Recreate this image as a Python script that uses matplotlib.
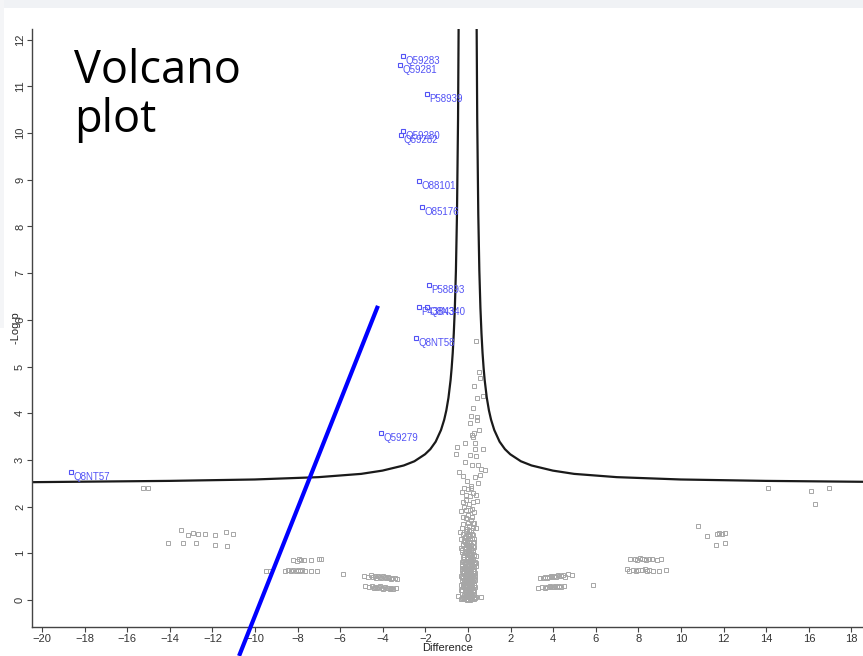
import matplotlib
matplotlib.use("Agg")
import matplotlib.pyplot as plt
from matplotlib.patches import Rectangle
import numpy as np

# significant proteins (blue, labelled)
sig_names = ["Q59283", "Q59281", "P58939", "Q59280", "Q59282", "O88101", "O85176",
             "P58893", "P43843", "Q8N340", "Q8NT58", "Q59279", "Q8NT57"]
sig_x = [-3.05, -3.19, -1.92, -3.05, -3.15, -2.30, -2.16, -1.83, -2.30, -1.92, -2.44, -4.08, -18.64]
sig_y = [11.65, 11.46, 10.83, 10.04, 9.96, 8.97, 8.42, 6.75, 6.27, 6.27, 5.61, 3.58, 2.74]

# non-significant proteins, central column
center_x = [0.38, 0.52, 0.56, 0.28, 0.44, 0.69, 0.25, 0.14, 0.41, 0.44, 0.09, 0.50, 0.20, 0.25, 0.28,
            -0.14, -0.50, -0.56, 0.33, 0.33, 0.69, 0.09, 0.38, -0.14, 0.20, 0.48, 0.61, 0.80, -0.41,
            -0.22, 0.33, 0.56, 0.48,
            -0.05, 0.15, 0.02, -0.30, 0.25, 0.10, -0.12, 0.40, 0.05, -0.20, 0.18, -0.35, 0.30, 0.00,
            -0.10, 0.12, 0.22, -0.25, 0.05, -0.05, 0.35, 0.15, -0.40, 0.00, 0.25,
            -0.15, 0.08, 0.18, -0.05, 0.30, -0.25, 0.00, 0.12, -0.12, 0.22, 0.05, -0.30, -0.05, 0.15,
            0.35, 0.00, -0.18, 0.25, 0.08, -0.08, 0.18, -0.28, 0.02, 0.30, -0.15, 0.12, -0.02, 0.22,
            -0.22, 0.06, -0.10, 0.16, 0.32, -0.30, 0.00, 0.10, -0.18, 0.24, -0.06, 0.14, -0.24, 0.04,
            0.28, -0.12, 0.18, -0.02, 0.08, -0.28, 0.22, -0.08, 0.12, 0.00, -0.18, 0.26, 0.06, -0.10,
            0.16, -0.30, 0.32, -0.45, 0.60, 0.00, -0.20, 0.20, -0.05, 0.10,
            0.00, -0.20, 0.25, -0.10, 0.08, -0.22, 0.15, -0.05, 0.28, -0.15, 0.05, -0.25, 0.20, 0.10,
            -0.12, 0.02, 0.14, -0.04, 0.04, -0.02, 0.10, -0.08, 0.20, -0.30, 0.38, -0.35, 0.00, 0.09,
            -0.14]
center_y = [5.55, 4.89, 4.75, 4.58, 4.32, 4.37, 4.12, 3.94, 3.91, 3.85, 3.80, 3.64, 3.53, 3.50, 3.58,
            3.36, 3.27, 3.13, 3.36, 3.24, 3.24, 3.10, 3.08, 2.95, 2.89, 2.89, 2.80, 2.78, 2.75,
            2.66, 2.64, 2.68, 2.50,
            2.55, 2.45, 2.38, 2.32, 2.30, 2.22, 2.15, 2.12, 2.05, 1.98, 1.95, 1.90, 1.88, 1.82,
            1.75, 1.72, 1.65, 1.62, 1.58, 1.52, 1.55, 1.50, 1.45, 1.42, 1.40,
            1.35, 1.33, 1.30, 1.26, 1.24, 1.20, 1.18, 1.15, 1.10, 1.08, 1.05, 1.02, 0.98, 0.96,
            0.94, 0.90, 0.88, 0.86, 0.83, 0.80, 0.78, 0.76, 0.73, 0.71, 0.69, 0.67, 0.64, 0.62,
            0.60, 0.58, 0.55, 0.53, 0.51, 0.49, 0.47, 0.45, 0.43, 0.41, 0.39, 0.37, 0.35, 0.33,
            0.31, 0.29, 0.27, 0.25, 0.23, 0.21, 0.19, 0.17, 0.15, 0.13, 0.11, 0.10, 0.08, 0.06,
            0.05, 0.04, 0.04, 0.08, 0.06, 0.02, 0.02, 0.02, 0.00, 0.00,
            1.38, 1.28, 1.16, 1.04, 0.92, 0.84, 0.74, 0.66, 0.57, 0.50, 0.41, 0.30, 0.35, 0.20,
            0.14, 0.09, 0.12, 0.32, 0.60, 0.82, 1.00, 1.20, 0.46, 0.66, 0.80, 1.12, 0.55, 0.30,
            0.72]

# more of the dense lower part of the column
blob_x = [-0.32, -0.12, 0.08, 0.28, -0.22, -0.02, 0.18, 0.36, -0.30, -0.08, 0.10, 0.30,
          -0.16, 0.04, 0.24, -0.34, -0.12, 0.06, 0.30, -0.24, -0.04, 0.14, 0.34,
          -0.32, -0.14, 0.12, 0.26, -0.20, -0.10, 0.02, 0.30, -0.30, -0.10, 0.12, 0.32,
          -0.24, 0.06, 0.26, -0.32, -0.04, 0.08, 0.22, -0.18, 0.12, 0.34,
          -0.28, -0.08, 0.10, 0.30, -0.20, 0.02, 0.22, -0.30, -0.04, 0.20, 0.36,
          -0.14, 0.06, 0.26, -0.30, -0.12, 0.14, 0.32, -0.06, 0.12, 0.24,
          -0.26, 0.00, 0.20, -0.20, 0.06, 0.28, -0.14, 0.02, 0.24, -0.28, -0.02, 0.12,
          -0.10, 0.06, 0.30, -0.22, 0.14, -0.14, 0.06, 0.22, -0.32, 0.00, 0.28,
          -0.10, 0.10, -0.22, 0.20, 0.06, -0.08, -0.30, 0.22, 0.00, 0.30,
          -0.22, 0.20, 0.08, -0.12, -0.25, 0.22, -0.10, 0.35, 0.12, -0.20]
blob_y = [0.03, 0.03, 0.03, 0.03, 0.07, 0.07, 0.07, 0.07, 0.12, 0.12, 0.12, 0.12,
          0.17, 0.17, 0.17, 0.22, 0.22, 0.22, 0.22, 0.27, 0.27, 0.27, 0.27,
          0.32, 0.32, 0.32, 0.32, 0.37, 0.37, 0.37, 0.37, 0.42, 0.42, 0.42, 0.42,
          0.47, 0.47, 0.47, 0.52, 0.52, 0.52, 0.52, 0.57, 0.57, 0.57,
          0.62, 0.62, 0.62, 0.62, 0.67, 0.67, 0.67, 0.72, 0.72, 0.72, 0.72,
          0.77, 0.77, 0.77, 0.82, 0.82, 0.82, 0.82, 0.87, 0.87, 0.87,
          0.92, 0.92, 0.92, 0.97, 0.97, 0.97, 1.02, 1.02, 1.02, 1.07, 1.07, 1.07,
          1.13, 1.13, 1.13, 1.18, 1.18, 1.24, 1.24, 1.24, 1.30, 1.30, 1.30,
          1.36, 1.36, 1.42, 1.42, 1.48, 1.48, 1.55, 1.55, 1.65, 1.65,
          1.78, 1.78, 1.92, 1.92, 2.10, 2.10, 2.25, 2.25, 2.40, 2.40]

# non-significant proteins, outer groups
outer_x = [-15.27, -15.01,
           -14.10, -13.47, -13.39, -13.16, -12.93, -12.77, -12.66, -12.36, -11.89, -11.89, -11.36, -11.33, -11.02,
           -9.48, -9.30,
           -8.20, -8.05, -7.95, -7.85, -7.70, -7.37, -7.00, -6.92,
           -8.60, -8.45, -8.30, -8.20, -8.10, -8.00, -7.90, -7.80, -7.65, -7.37, -7.09,
           -5.85,
           -4.88, -4.70, -4.55, -4.45, -4.38, -4.30, -4.22, -4.15, -4.08, -4.00, -3.92, -3.85, -3.78,
           -3.70, -3.62, -3.55, -3.45, -3.35,
           -4.85, -4.65, -4.50, -4.42, -4.35, -4.27, -4.20, -4.12, -4.05, -3.98, -3.90, -3.82, -3.75,
           -3.68, -3.60, -3.50, -3.38,
           3.38, 3.50, 3.62, 3.72, 3.80, 3.88, 3.96, 4.04, 4.12, 4.20, 4.28, 4.36, 4.45, 4.55, 4.70, 4.88,
           3.29, 3.48, 3.60, 3.70, 3.78, 3.86, 3.94, 4.02, 4.10, 4.18, 4.26, 4.36, 4.50,
           5.85,
           7.60, 7.85, 7.95, 8.05, 8.15, 8.25, 8.35, 8.50, 8.65, 8.85, 9.05,
           7.45, 7.55, 7.75, 7.90, 8.00, 8.15, 8.30, 8.40, 8.50, 8.70, 8.95, 9.30,
           10.78, 11.22, 11.67, 11.80, 11.92, 12.05, 11.62, 12.07,
           14.10, 16.10, 16.95, 16.30]
outer_y = [2.39, 2.40,
           1.21, 1.49, 1.22, 1.39, 1.43, 1.21, 1.41, 1.42, 1.40, 1.18, 1.46, 1.16, 1.41,
           0.62, 0.62,
           0.86, 0.84, 0.87, 0.85, 0.86, 0.85, 0.87, 0.87,
           0.63, 0.64, 0.62, 0.65, 0.63, 0.64, 0.62, 0.64, 0.63, 0.62, 0.61,
           0.56,
           0.52, 0.50, 0.53, 0.49, 0.51, 0.48, 0.52, 0.50, 0.47, 0.51, 0.49, 0.46, 0.50,
           0.48, 0.45, 0.47, 0.46, 0.44,
           0.29, 0.28, 0.30, 0.26, 0.28, 0.25, 0.27, 0.29, 0.26, 0.24, 0.27, 0.25, 0.26,
           0.24, 0.25, 0.23, 0.25,
           0.46, 0.47, 0.50, 0.48, 0.50, 0.51, 0.49, 0.52, 0.50, 0.53, 0.51, 0.52, 0.54, 0.50, 0.55, 0.53,
           0.26, 0.27, 0.26, 0.28, 0.27, 0.29, 0.27, 0.28, 0.30, 0.28, 0.29, 0.28, 0.30,
           0.31,
           0.87, 0.88, 0.86, 0.89, 0.87, 0.88, 0.86, 0.87, 0.88, 0.86, 0.87,
           0.66, 0.62, 0.64, 0.63, 0.65, 0.64, 0.66, 0.63, 0.65, 0.62, 0.61, 0.65,
           1.58, 1.36, 1.41, 1.43, 1.42, 1.44, 1.17, 1.21,
           2.40, 2.33, 2.40, 2.06]

# significance curve (distance from centre, -log p)
curve_center = -0.02
curve_dx = [0.40, 0.42, 0.45, 0.50, 0.55, 0.60, 0.65, 0.70, 0.75, 0.80, 0.90, 1.00, 1.10,
            1.25, 1.50, 1.75, 2.0, 2.5, 3.0, 4.0, 5.0, 7.0, 10.0, 14.0, 21.0]
curve_y = [14.7, 12.5, 10.3, 8.26, 7.05, 6.26, 5.71, 5.29, 4.97, 4.71, 4.33, 4.06, 3.86,
           3.64, 3.39, 3.23, 3.12, 2.97, 2.88, 2.77, 2.70, 2.63, 2.58, 2.55, 2.52]

W, H = 863, 656
fig = plt.figure(figsize=(W / 100, H / 100), dpi=100)
fig.patch.set_facecolor("white")
# screenshot frame
fig.add_artist(Rectangle((0, 1 - 8 / H), 1, 8 / H, transform=fig.transFigure,
                         facecolor="#f0f2f5", edgecolor="none", zorder=0))
fig.add_artist(Rectangle((0, 0.5), 4 / W, 0.5, transform=fig.transFigure,
                         facecolor="#f4f5f7", edgecolor="none", zorder=0))

ax = fig.add_axes([32 / W, 1 - 627 / H, (W - 32) / W, (627 - 29) / H])
ax.set_xlim(-20.47, 18.54)
ax.set_ylim(-0.58, 12.23)

grey = "#a6a6a6"
ms = 3.0
ax.plot(center_x, center_y, ls="none", marker="s", ms=ms, mfc="none", mec=grey, mew=0.7)
ax.plot(blob_x, blob_y, ls="none", marker="s", ms=ms, mfc="none", mec=grey, mew=0.7)
ax.plot(outer_x, outer_y, ls="none", marker="s", ms=ms, mfc="none", mec=grey, mew=0.7)

cdx = np.array(curve_dx)
ax.plot(curve_center - cdx, curve_y, color="#1a1a1a", lw=1.6)
ax.plot(curve_center + cdx, curve_y, color="#1a1a1a", lw=1.6)

blue = "#5252f5"
ax.plot(sig_x, sig_y, ls="none", marker="s", ms=ms, mfc="none", mec=blue, mew=0.8)
for name, x, y in zip(sig_names, sig_x, sig_y):
    ax.annotate(name, (x, y), xytext=(1.5, -3.5), textcoords="offset points",
                ha="left", va="center", color=blue, fontsize=7, family="Liberation Sans")

for s in ["top", "right"]:
    ax.spines[s].set_visible(False)
for s in ["left", "bottom"]:
    ax.spines[s].set_color("#444444")
    ax.spines[s].set_linewidth(1.0)

ax.set_xticks(range(-20, 19, 2))
ax.set_yticks(range(0, 13))
ax.tick_params(axis="both", length=3.5, width=0.8, color="#444444", labelcolor="#333333",
               labelsize=8, pad=1.5)
for lab in ax.get_xticklabels() + ax.get_yticklabels():
    lab.set_family("Liberation Sans")
for lab in ax.get_yticklabels():
    lab.set_rotation(90)
    lab.set_va("center")

ax.set_xlabel("Difference", fontsize=8, family="Liberation Sans", color="#222222", labelpad=-1)
ax.set_ylabel("-Log p", fontsize=8, family="Liberation Sans", color="#222222", labelpad=-4)

# pointer line drawn over the screenshot
ax.plot([-4.23, -10.75], [6.30, -1.20], color="#0000ff", lw=3.0, clip_on=False,
        solid_capstyle="butt", zorder=10)

fig.text(74 / W, 1 - 83 / H, "Volcano", fontsize=32.5, family="Open Sans",
         ha="left", va="baseline", color="black")
fig.text(74 / W, 1 - 132 / H, "plot", fontsize=32.5, family="Open Sans",
         ha="left", va="baseline", color="black")

fig.savefig("out.png", dpi=100, facecolor="white")
